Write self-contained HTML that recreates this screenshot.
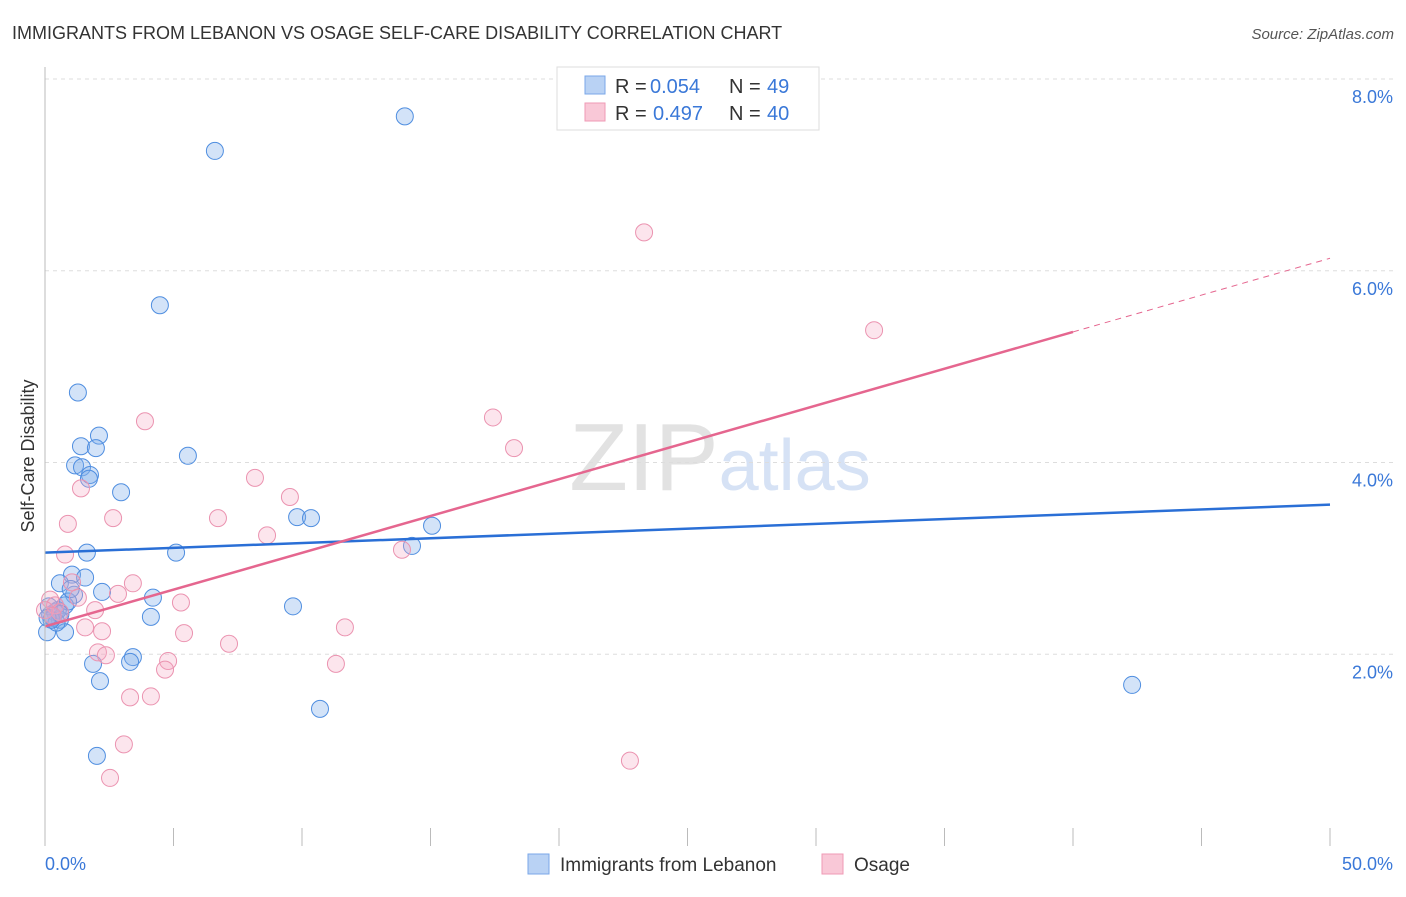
<!DOCTYPE html>
<html><head><meta charset="utf-8"><style>
body{margin:0;background:#fff;font-family:"Liberation Sans",sans-serif;}
svg text{font-family:"Liberation Sans",sans-serif;}
</style></head><body>
<svg id="c" width="1406" height="892">
<text x="12" y="39" font-size="18" fill="#333">IMMIGRANTS FROM LEBANON VS OSAGE SELF-CARE DISABILITY CORRELATION CHART</text>
<text x="1394" y="39" font-size="15" fill="#555" text-anchor="end" font-style="italic">Source: ZipAtlas.com</text>
<text x="34" y="456" font-size="18" fill="#333" text-anchor="middle" transform="rotate(-90 34 456)">Self-Care Disability</text>
<text x="720" y="490" font-size="96" fill="#e2e2e2" text-anchor="middle" font-family="Liberation Serif">ZIP<tspan fill="#d6e2f5" font-family="Liberation Sans" font-size="72">atlas</tspan></text>
<g id="grid"></g><g id="pts"></g><g id="lines"></g>
<line x1="45" y1="67" x2="45" y2="846" stroke="#bbb"/>
<g>
<rect x="557" y="67" width="262" height="63" fill="#fff" stroke="#ddd"/>
<rect x="585" y="76" width="20" height="18" fill="#b9d2f4" stroke="#7aa7e8"/>
<rect x="585" y="103" width="20" height="18" fill="#f9c8d7" stroke="#ef9ab4"/>
<text x="615" y="93" font-size="20" fill="#333">R =</text>
<text x="650" y="93" font-size="20" fill="#3a78d8">0.054</text>
<text x="729" y="93" font-size="20" fill="#333">N =</text>
<text x="767" y="93" font-size="20" fill="#3a78d8">49</text>
<text x="615" y="120" font-size="20" fill="#333">R =</text>
<text x="653" y="120" font-size="20" fill="#3a78d8">0.497</text>
<text x="729" y="120" font-size="20" fill="#333">N =</text>
<text x="767" y="120" font-size="20" fill="#3a78d8">40</text>
</g>
<g>
<rect x="528" y="854" width="21" height="20" fill="#b9d2f4" stroke="#7aa7e8"/>
<text x="560" y="871" font-size="19" fill="#333">Immigrants from Lebanon</text>
<rect x="822" y="854" width="21" height="20" fill="#f9c8d7" stroke="#ef9ab4"/>
<text x="854" y="871" font-size="19" fill="#333">Osage</text>
</g>
<text x="45" y="870" font-size="18" fill="#3a78d8">0.0%</text>
<text x="1393" y="870" font-size="18" fill="#3a78d8" text-anchor="end">50.0%</text>
</svg>
<script>
const yTicks=[2,4,6,8];
const yTickLabels=["2.0%","4.0%","6.0%","8.0%"];
const blueX=[14.0,6.61,4.47,1.28,2.10,1.40,1.98,1.17,1.44,1.75,1.71,5.56,2.96,9.81,10.35,15.06,14.28,1.63,5.10,1.05,1.56,0.58,2.22,4.20,1.13,0.78,9.65,4.12,0.2,0.39,0.58,0.08,0.78,1.87,3.42,3.31,2.14,10.70,2.02,42.30,0.3,0.5,0.9,0.15,0.45,1.0,0.25,0.6,0.1];
const blueY=[7.61,7.25,5.64,4.73,4.28,4.17,4.15,3.97,3.95,3.87,3.83,4.07,3.69,3.43,3.42,3.34,3.13,3.06,3.06,2.83,2.80,2.74,2.65,2.59,2.62,2.51,2.50,2.39,2.41,2.44,2.36,2.23,2.23,1.90,1.97,1.92,1.72,1.43,0.94,1.68,2.38,2.46,2.55,2.50,2.33,2.68,2.36,2.42,2.38];
const pinkX=[23.31,32.26,17.43,18.25,3.89,8.17,9.53,1.40,6.73,2.65,0.89,8.64,13.89,0.78,3.42,1.05,2.84,5.29,1.28,1.95,11.67,1.56,2.22,5.41,7.16,2.06,2.37,4.79,4.67,11.32,3.31,4.12,3.07,2.53,22.76,0.2,0.39,0.0,0.58,0.3];
const pinkY=[6.40,5.38,4.47,4.15,4.43,3.84,3.64,3.73,3.42,3.42,3.36,3.24,3.09,3.04,2.74,2.75,2.63,2.54,2.59,2.46,2.28,2.28,2.24,2.22,2.11,2.02,1.99,1.93,1.84,1.90,1.55,1.56,1.06,0.71,0.89,2.57,2.51,2.46,2.44,2.40];
const blueTrend=[3.06,3.56];
const pinkTrend=[2.29,6.13];
const pinkSolidEnd=40;
const sx=v=>45+v/50*1285, sy=v=>846-v/8*767;
const NS="http://www.w3.org/2000/svg";
function mk(t,a,p){const e=document.createElementNS(NS,t);for(const k in a)e.setAttribute(k,a[k]);p.appendChild(e);return e;}
const grid=document.getElementById('grid');
yTicks.forEach((t,i)=>{
 const l=mk('line',{x1:45,x2:1394,y1:sy(t),y2:sy(t),stroke:'#ddd','stroke-dasharray':'4,4'},grid);
 
 
 const tx=mk('text',{x:1393,y:sy(t)+24,'font-size':18,fill:'#3a78d8','text-anchor':'end'},grid);
 tx.textContent=yTickLabels[i];
 
 
});
for(let k=0;k<=10;k++){
 const l=mk('line',{x1:sx(k*5),x2:sx(k*5),y1:828,y2:846,stroke:'#bbb'},grid);
 
 
}
const pts=document.getElementById('pts');
blueX.forEach((x,i)=>{
 const c=mk('circle',{cx:sx(x),cy:sy(blueY[i]),r:8.5,fill:'rgba(130,175,235,0.35)',stroke:'#4f8ee0','stroke-width':1},pts);
 
 
});
pinkX.forEach((x,i)=>{
 const c=mk('circle',{cx:sx(x),cy:sy(pinkY[i]),r:8.5,fill:'rgba(245,170,195,0.3)',stroke:'#eb93b0','stroke-width':1},pts);
 
 
});
const lines=document.getElementById('lines');
const bl=mk('line',{x1:sx(0),y1:sy(blueTrend[0]),x2:sx(50),y2:sy(blueTrend[1]),stroke:'#2a6fd6','stroke-width':2.5},lines);


const pe=v=>pinkTrend[0]+(pinkTrend[1]-pinkTrend[0])*v/50;
const pl=mk('line',{x1:sx(0),y1:sy(pe(0)),x2:sx(pinkSolidEnd),y2:sy(pe(pinkSolidEnd)),stroke:'#e5668f','stroke-width':2.5},lines);


const pd=mk('line',{x1:sx(pinkSolidEnd),y1:sy(pe(pinkSolidEnd)),x2:sx(50),y2:sy(pe(50)),stroke:'#e5668f','stroke-width':1,'stroke-dasharray':'6,5'},lines);


</script>
</body></html>
